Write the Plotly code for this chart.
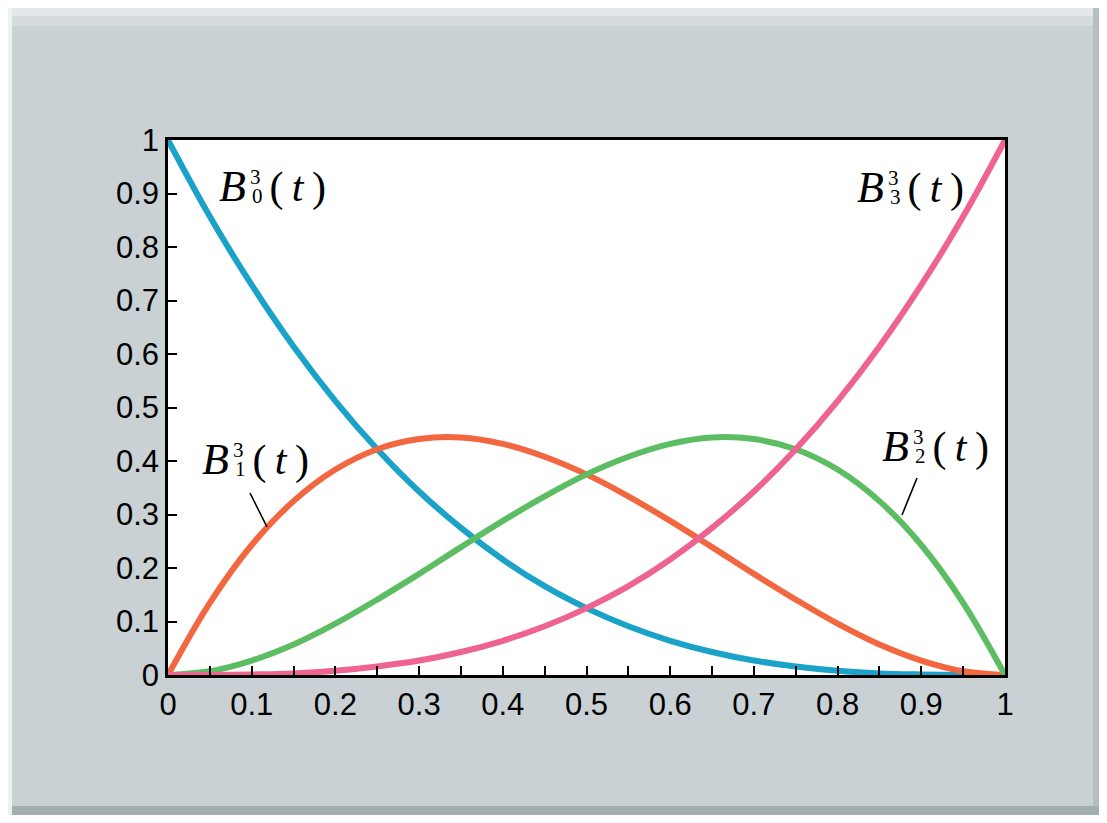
import plotly.graph_objects as go

# ---- data ----
t_values = [0.00, 0.05, 0.10, 0.15, 0.20, 0.25, 0.30, 0.35, 0.40, 0.45, 0.50,
            0.55, 0.60, 0.65, 0.70, 0.75, 0.80, 0.85, 0.90, 0.95, 1.00]
b0_values = [1.000, 0.857, 0.729, 0.614, 0.512, 0.422, 0.343, 0.275, 0.216, 0.166, 0.125,
             0.091, 0.064, 0.043, 0.027, 0.016, 0.008, 0.003, 0.001, 0.000, 0.000]
b1_values = [0.000, 0.135, 0.243, 0.325, 0.384, 0.422, 0.441, 0.444, 0.432, 0.408, 0.375,
             0.334, 0.288, 0.239, 0.189, 0.141, 0.096, 0.057, 0.027, 0.007, 0.000]
b2_values = [0.000, 0.007, 0.027, 0.057, 0.096, 0.141, 0.189, 0.239, 0.288, 0.334, 0.375,
             0.408, 0.432, 0.444, 0.441, 0.422, 0.384, 0.325, 0.243, 0.135, 0.000]
b3_values = [0.000, 0.000, 0.001, 0.003, 0.008, 0.016, 0.027, 0.043, 0.064, 0.091, 0.125,
             0.166, 0.216, 0.275, 0.343, 0.422, 0.512, 0.614, 0.729, 0.857, 1.000]
series_names = ["B0", "B1", "B2", "B3"]
series_colors = ["#1aa2c8", "#f2673f", "#5dbd62", "#ee6390"]
label_index = [0, 1, 2, 3]
tick_vals = [0, 0.1, 0.2, 0.3, 0.4, 0.5, 0.6, 0.7, 0.8, 0.9, 1]
tick_text = ["0", "0.1", "0.2", "0.3", "0.4", "0.5", "0.6", "0.7", "0.8", "0.9", "1"]

# ---- layout geometry (page pixels; page body has an 8px margin) ----
OFF = 8
W_FIG, H_FIG = 1107 - 2 * OFF, 823 - 2 * OFF
L, R, T, B = 168, 1005, 140, 675          # plot area in page pixels
PW, PH = R - L, B - T


def px(x):
    return (x - L) / PW


def py(y):
    return (B - y) / PH


fig = go.Figure()
for name, vals, col in zip(series_names, [b0_values, b1_values, b2_values, b3_values], series_colors):
    fig.add_trace(go.Scatter(x=t_values, y=vals, mode="lines", name=name,
                             line=dict(color=col, width=6, shape="spline", smoothing=1.0),
                             cliponaxis=False, showlegend=False))

axis_font = dict(family="Liberation Sans Narrow, Liberation Sans, Arial, sans-serif", size=31, color="black")

fig.update_xaxes(range=[0, 1], tickvals=tick_vals, ticktext=tick_text, ticks="inside",
                 ticklen=9, tickwidth=2, tickcolor="black", showline=True, linecolor="black",
                 linewidth=2.5, mirror=True, showgrid=False, zeroline=False, tickfont=axis_font,
                 minor=dict(ticks="inside", dtick=0.05, ticklen=9, tickwidth=2, tickcolor="black"))
fig.update_yaxes(range=[0, 1], tickvals=tick_vals, ticktext=tick_text, ticks="inside",
                 ticklen=9, tickwidth=2, tickcolor="black", showline=True, linecolor="black",
                 linewidth=2.5, mirror=True, showgrid=False, zeroline=False, tickfont=axis_font)

serif = "Liberation Serif, Times New Roman, serif"


def label_text(idx):
    # italic B with a stacked superscript 3 and subscript index, then (t)
    return ("<span style='letter-spacing:4px'><i>B</i></span>"
            "<span style='font-size:21px;letter-spacing:-8.5px;baseline-shift:17px'>3</span>"
            "<span style='font-size:21px;letter-spacing:7px;baseline-shift:-2px'>%d</span>"
            "<span style='font-size:42px'>(\u2009<i>t</i>\u2009)</span>" % idx)


label_pos = [(217, 186), (200, 459), (880, 446), (855, 188)]   # page px: left edge, vertical centre
annotations = []
for idx, (bx, by) in zip(label_index, label_pos):
    annotations.append(dict(xref="paper", yref="paper", x=px(bx), y=py(by), xanchor="left",
                            yanchor="middle", text=label_text(idx), showarrow=False,
                            font=dict(family=serif, size=44, color="black")))

shapes = [
    # leader lines
    dict(type="line", xref="paper", yref="paper", x0=px(250), y0=py(493), x1=px(267), y1=py(527),
         line=dict(color="black", width=1.6)),
    dict(type="line", xref="paper", yref="paper", x0=px(917), y0=py(478), x1=px(902), y1=py(515),
         line=dict(color="black", width=1.6)),
    # bevel frame edges (page pixel coords)
    dict(type="rect", xref="paper", yref="paper", x0=px(8), x1=px(12), y0=py(8), y1=py(815),
         fillcolor="#eef1f1", line=dict(width=0), layer="below"),
    dict(type="rect", xref="paper", yref="paper", x0=px(12), x1=px(1099), y0=py(8), y1=py(16),
         fillcolor="#e4e8e9", line=dict(width=0), layer="below"),
    dict(type="rect", xref="paper", yref="paper", x0=px(12), x1=px(1099), y0=py(16), y1=py(26),
         fillcolor="#d6dcde", line=dict(width=0), layer="below"),
    dict(type="rect", xref="paper", yref="paper", x0=px(1093), x1=px(1099), y0=py(8), y1=py(815),
         fillcolor="#b5bec1", line=dict(width=0), layer="below"),
    dict(type="rect", xref="paper", yref="paper", x0=px(12), x1=px(1099), y0=py(806), y1=py(815),
         fillcolor="#a3aeb1", line=dict(width=0), layer="below"),
]

fig.update_layout(width=W_FIG, height=H_FIG, autosize=False,
                  margin=dict(l=L - OFF, r=(1107 - OFF) - R, t=T - OFF, b=(823 - OFF) - B, pad=0),
                  paper_bgcolor="#c9d1d4", plot_bgcolor="white",
                  annotations=annotations, shapes=shapes, showlegend=False)

fig.write_html("out.html")
